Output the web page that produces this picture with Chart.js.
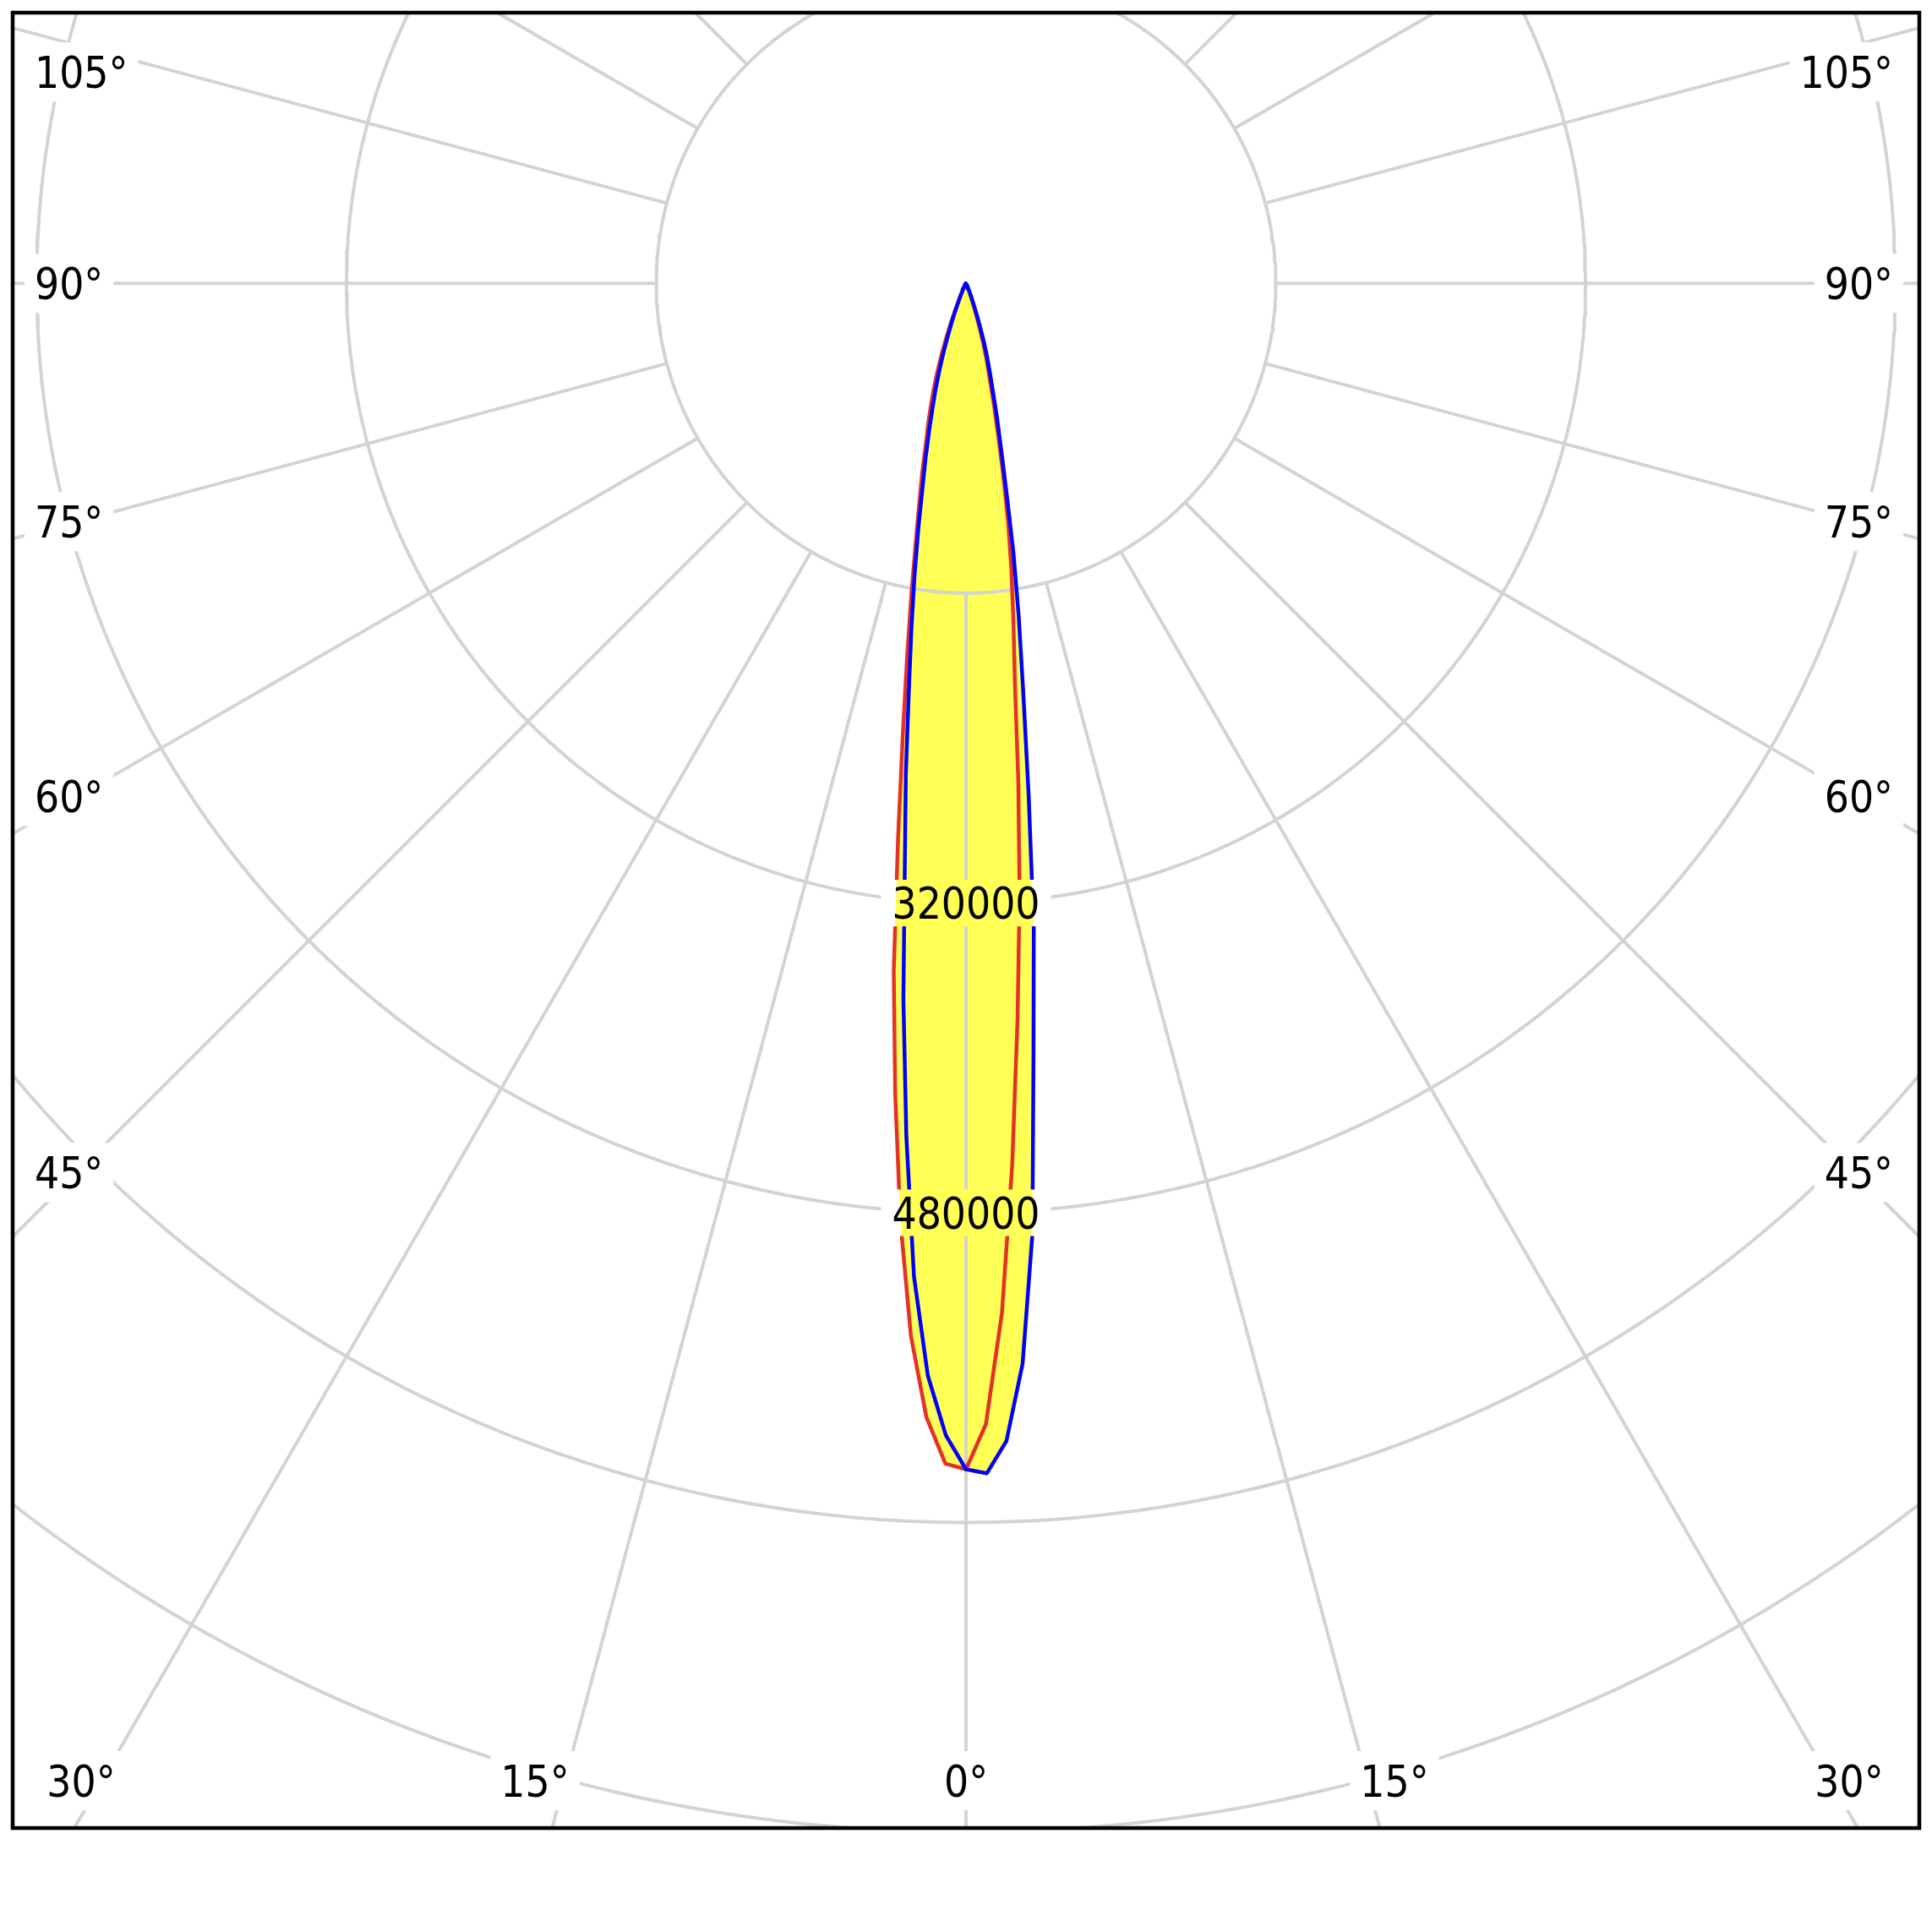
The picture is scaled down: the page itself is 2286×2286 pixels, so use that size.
<!DOCTYPE html>
<html>
<head>
<meta charset="utf-8">
<script src="https://cdn.jsdelivr.net/npm/chart.js@4.4.0/dist/chart.umd.min.js"></script>
<style>
  html, body { margin: 0; padding: 0; background: #fff; }
  canvas { display: block; }
</style>
</head>
<body>
<canvas id="polarChart" width="2286" height="2286"></canvas>
<script>
// gamma angle from nadir (deg) and luminous intensity (cd) per half plane
const gammaAngles = [0, 1, 2, 3, 4, 5, 6, 7, 8, 9, 10, 11, 12, 13, 14, 15, 16, 17, 18, 19, 20,
  21, 22, 23, 24, 25, 26, 27, 28, 29, 30, 35, 40, 45, 50, 55, 60, 65, 70, 75, 80, 85, 90];

// red curve, C0 (right) / C180 (left)
const intensityC0 = [612500, 589300, 532000, 456000, 381500, 317600, 258400, 207000, 176000, 150000,
  125400, 100400, 79300, 64000, 50000, 41400, 32500, 23500, 16000, 11000,
  7500, 5000, 3500, 2500, 1800, 1300, 1000, 800, 600, 500,
  400, 200, 100, 80, 60, 40, 30, 20, 10, 10, 0, 0, 0];
const intensityC180 = [612500, 609700, 586000, 544200, 485600, 419800, 357000, 287700, 234000, 194000,
  162000, 136000, 116000, 100700, 86000, 75700, 66000, 57000, 47600, 38500,
  29500, 21500, 15000, 10500, 7500, 5500, 4000, 3000, 2200, 1600,
  1200, 600, 400, 300, 200, 150, 100, 80, 60, 40, 20, 10, 0];

// blue curve, C90 (right) / C270 (left)
const intensityC90 = [612500, 614700, 598300, 558700, 492000, 400000, 335000, 265000, 212000, 174000,
  141000, 109000, 87000, 71300, 57400, 47600, 39600, 31600, 23600, 17000,
  12000, 8500, 6000, 4200, 3000, 2200, 1600, 1200, 900, 700,
  500, 250, 150, 100, 80, 60, 40, 30, 20, 10, 10, 0, 0];
const intensityC270 = [612500, 595100, 564500, 513500, 441700, 371000, 302300, 255000, 212000, 180000,
  153000, 129000, 108000, 93000, 79000, 67000, 57000, 47000, 37500, 29000,
  22000, 16000, 11500, 8000, 5500, 4000, 3000, 2200, 1600, 1200,
  900, 500, 300, 200, 150, 100, 80, 60, 40, 30, 20, 10, 0];

const ringValues = [160000, 320000, 480000, 640000, 800000];
const ringLabelValues = [320000, 480000];
const spokeAngles = [0, 15, 30, 45, 60, 75, 90, 105, 120, 135, 150, 165,
  180, 195, 210, 225, 240, 255, 270, 285, 300, 315, 330, 345];
const sideAngles = [105, 90, 75, 60, 45];
const sideLabels = ["105°", "90°", "75°", "60°", "45°"];
const bottomLabels = ["30°", "15°", "0°", "15°", "30°"];

// axis limits (cd), equal scale on both axes
const X_MIN = -492400, X_MAX = 492400;
const Y_MIN = -797800, Y_MAX = 139800;

const LABEL_SIZE = 51;
const LABEL_FONT = LABEL_SIZE + 'px "DejaVu Sans Condensed", "DejaVu Sans", sans-serif';
const GRID_COLOR = "#d3d3d3";
const FILL_COLOR = "#ffff55";

function polar(angleDeg, value) {
  const a = angleDeg * Math.PI / 180;
  return { x: value * Math.sin(a), y: -value * Math.cos(a) };
}

function planePoints(leftValues, rightValues) {
  const pts = [];
  for (let i = gammaAngles.length - 1; i >= 0; i--) pts.push(polar(-gammaAngles[i], leftValues[i]));
  for (let i = 1; i < gammaAngles.length; i++) pts.push(polar(gammaAngles[i], rightValues[i]));
  return pts;
}

const datasets = [
  {
    data: planePoints(intensityC270, intensityC90),
    borderColor: "#0000ff",
    backgroundColor: FILL_COLOR,
    fill: "shape",
    borderWidth: 4.5,
    order: 1,
  },
  {
    data: planePoints(intensityC180, intensityC0),
    borderColor: "#e5302a",
    backgroundColor: FILL_COLOR,
    fill: "shape",
    borderWidth: 4.5,
    order: 2,
  },
];

ringValues.forEach((r) => {
  const pts = [];
  for (let d = 0; d <= 360; d++) pts.push(polar(d, r));
  datasets.push({ data: pts, borderColor: GRID_COLOR, borderWidth: 4, fill: false, order: 3 });
});

spokeAngles.forEach((a) => {
  datasets.push({
    data: [polar(a, ringValues[0]), polar(a, 1000000)],
    borderColor: GRID_COLOR,
    borderWidth: 4,
    fill: false,
    order: 3,
  });
});

function layoutLabels(chart) {
  const ctx = chart.ctx;
  ctx.font = LABEL_FONT;
  const area = chart.chartArea;
  const cx = chart.scales.x.getPixelForValue(0);
  const cy = chart.scales.y.getPixelForValue(0);
  const digitH = LABEL_SIZE * 0.729;
  const boxes = [];
  const add = (text, centerX, centerY, padX, boxH) => {
    const w = ctx.measureText(text).width;
    boxes.push({
      text,
      textX: centerX - w / 2,
      baseline: centerY + digitH / 2,
      left: centerX - w / 2 - padX,
      top: centerY - boxH / 2,
      width: w + 2 * padX,
      height: boxH,
    });
  };

  sideAngles.forEach((ang, i) => {
    const rad = ang * Math.PI / 180;
    const reach = cx - (area.left + 76);
    let y = cy + reach * Math.cos(rad) / Math.sin(rad);
    y = Math.max(y, area.top + 70);
    const w = ctx.measureText(sideLabels[i]).width;
    add(sideLabels[i], area.left + 26 + w / 2, y, 12, 70);
    add(sideLabels[i], area.right - 31 - w / 2, y, 12, 70);
  });

  const bottomOffsets = [-1047, -510, 0, 507, 1045];
  bottomLabels.forEach((t, i) => add(t, cx + bottomOffsets[i], area.bottom - 56, 12, 70));

  ringLabelValues.forEach((v) => {
    add(String(v), cx, chart.scales.y.getPixelForValue(-v), 13, 55);
  });
  return boxes;
}

const labelPlugin = {
  id: "polarLabels",
  beforeDatasetsDraw(chart) {
    const boxes = layoutLabels(chart);
    chart.$labelBoxes = boxes;
    const ctx = chart.ctx;
    ctx.save();
    ctx.beginPath();
    ctx.rect(0, 0, chart.width, chart.height);
    boxes.forEach((b) => ctx.rect(b.left, b.top, b.width, b.height));
    ctx.clip("evenodd");
  },
  afterDatasetsDraw(chart) {
    const ctx = chart.ctx;
    ctx.restore();
    ctx.save();
    ctx.font = LABEL_FONT;
    ctx.fillStyle = "#000";
    ctx.textAlign = "left";
    ctx.textBaseline = "alphabetic";
    chart.$labelBoxes.forEach((b) => ctx.fillText(b.text, b.textX, b.baseline));
    const a = chart.chartArea;
    ctx.lineWidth = 4.5;
    ctx.strokeStyle = "#000";
    ctx.strokeRect(a.left, a.top, a.right - a.left, a.bottom - a.top);
    ctx.restore();
  },
};

new Chart(document.getElementById("polarChart"), {
  type: "line",
  data: { datasets },
  options: {
    responsive: false,
    animation: false,
    devicePixelRatio: 1,
    events: [],
    layout: { padding: { left: 15, top: 15, right: 15, bottom: 123 } },
    elements: {
      point: { radius: 0 },
      line: { tension: 0, borderJoinStyle: "round" },
    },
    scales: {
      x: { type: "linear", display: false, min: X_MIN, max: X_MAX },
      y: { type: "linear", display: false, min: Y_MIN, max: Y_MAX },
    },
    plugins: {
      legend: { display: false },
      tooltip: { enabled: false },
      filler: { drawTime: "beforeDatasetsDraw" },
    },
  },
  plugins: [labelPlugin],
});
</script>
</body>
</html>
